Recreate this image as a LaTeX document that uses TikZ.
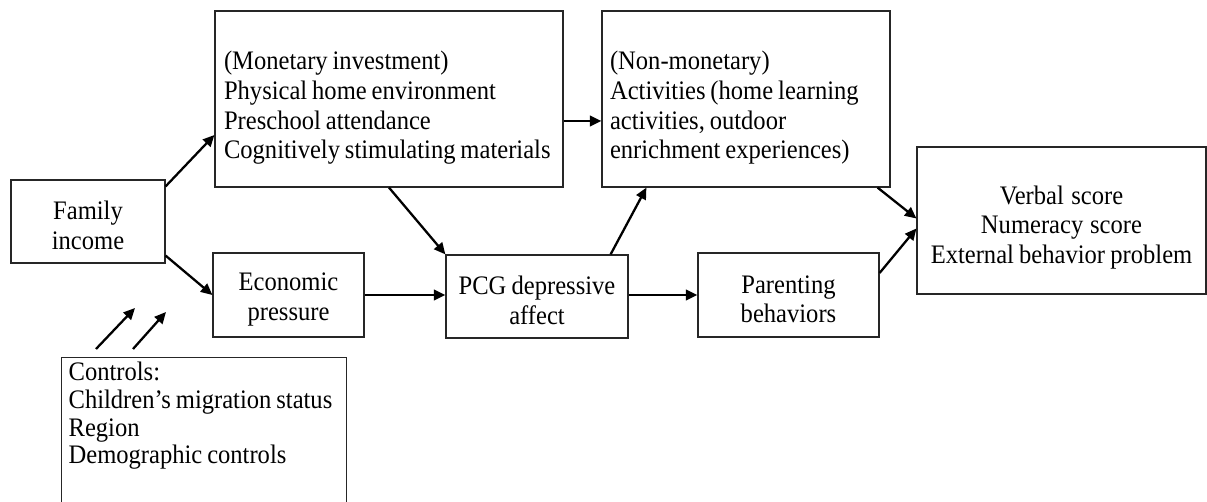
\documentclass[tikz,border=0pt]{standalone}
\usepackage{fontspec}
\setmainfont{Liberation Serif}[FakeStretch=0.92]
\usepackage{tikz}
\usetikzlibrary{arrows.meta,calc,positioning}
\newcommand\tightsp{\spaceskip=2.8pt plus 1pt minus 0.5pt\relax\hyphenpenalty=10000\relax}
\tikzset{box/.style={draw=black!85, rectangle, line width=0.7pt, inner sep=0pt, font=\fontsize{15.2}{16.9}\selectfont, execute at begin node=\tightsp}}
\tikzset{small box/.style={box, text width=2.9cm, text height=0.53cm, align=center}}
\tikzset{link/.style={->, line width=1.3pt}}

\begin{document}
\begin{tikzpicture}[x=0.02cm, y=-0.02cm, >={Triangle[length=2.3mm,width=2.1mm]}]
\useasboundingbox (0,0) rectangle (1207,502);
\node[small box, minimum width=3.08cm, minimum height=1.66cm] (fam) at (88,221.5) {Family\\income};
\node[box, minimum width=6.96cm, minimum height=3.52cm, text width=6.6cm, text height=0.73cm, align=left] (mon) at (389,99) {(Monetary investment)\\Physical home environment\\Preschool attendance\\Cognitively stimulating materials};
\node[box, minimum width=5.76cm, minimum height=3.52cm, text width=5.44cm, text height=0.73cm, align=left] (non) at (746,99) {(Non-monetary)\\Activities (home learning\\activities, outdoor\\enrichment experiences)};
\node[box, minimum width=5.78cm, minimum height=2.94cm, text width=5.6cm, text height=0.65cm, align=center] (out) at (1061.5,220.5) {Verbal score\\Numeracy score\\External behavior problem};
\node[small box, minimum width=3.02cm, minimum height=1.68cm] (eco) at (288.5,295) {Economic\\pressure};
\node[small box, minimum width=3.64cm, minimum height=1.66cm, text width=3.5cm] (pcg) at (537,296.5) {PCG depressive\\affect};
\node[small box, minimum width=3.62cm, minimum height=1.68cm, text width=3.5cm] (par) at (788.5,295) {Parenting\\behaviors};
\node[box, anchor=north west, inner xsep=0.14cm, inner ysep=0.095cm, text width=5.42cm, text depth=3cm, align=left, font=\fontsize{15.2}{15.7}\selectfont] (ctl) at (61,357) {Controls:\\Children's migration status\\Region\\Demographic controls};

\coordinate (c1s) at (96,349);
\coordinate (c1e) at (135,308);
\coordinate (c2s) at (133,349);
\coordinate (c2e) at (166,312);

\draw[link] ($(fam.north east)+(0,7)$) -- ($(mon.west)+(0,36)$);
\draw[link] ($(fam.south east)+(0,-8)$) -- (eco.west);
\draw[link] ($(mon.east)+(0,22)$) -- ($(non.west)+(0,22)$);
\draw[link] (mon.south) -- (pcg.north west);
\draw[link] (eco.east) -- (eco.east -| pcg.west);
\draw[link] ($(pcg.north east)+(-18,0)$) -- ($(non.south west)+(45,0)$);
\draw[link] ($(pcg.east)+(0,-1.5)$) -- (par.west);
\draw[link] ($(non.south east)+(-13,0)$) -- ($(out.west)+(0,-2)$);
\draw[link] ($(par.east)+(0,-22)$) -- ($(out.west)+(0,8)$);
\draw[link] (c1s) -- (c1e);
\draw[link] (c2s) -- (c2e);
\end{tikzpicture}
\end{document}
